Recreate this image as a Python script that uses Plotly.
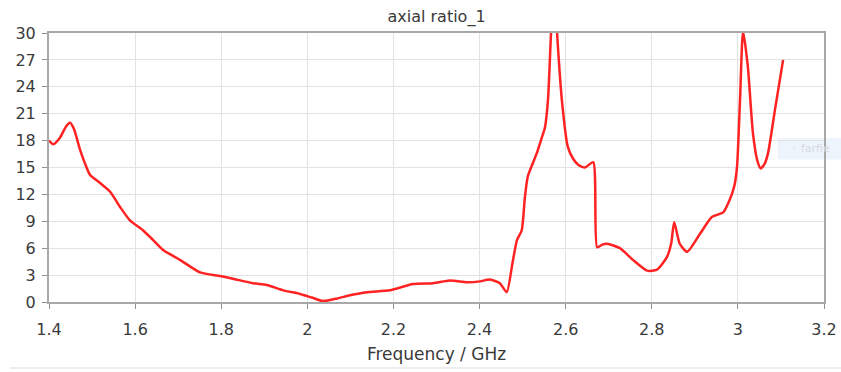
import plotly.graph_objects as go

# Axial ratio (dB) versus frequency (GHz)
freq_ghz = [
    1.400, 1.410, 1.425, 1.440, 1.449, 1.458, 1.472, 1.484, 1.495, 1.518,
    1.542, 1.565, 1.588, 1.618, 1.640, 1.665, 1.704, 1.751, 1.797, 1.827,
    1.874, 1.906, 1.944, 1.983, 2.010, 2.036, 2.070, 2.099, 2.138, 2.192,
    2.245, 2.292, 2.331, 2.371, 2.401, 2.424, 2.447, 2.463, 2.477, 2.487,
    2.498, 2.505, 2.512, 2.533, 2.545, 2.552, 2.559, 2.566, 2.573, 2.580,
    2.591, 2.605, 2.617, 2.629, 2.645, 2.664, 2.673, 2.685, 2.696, 2.726,
    2.756, 2.789, 2.812, 2.835, 2.845, 2.852, 2.865, 2.882, 2.912, 2.940,
    2.966, 2.981, 2.992, 2.998, 3.005, 3.012, 3.023, 3.035, 3.045, 3.053,
    3.062, 3.070, 3.086, 3.105,
]
axial_ratio_db = [
    18.0, 17.6, 18.3, 19.6, 20.0, 19.3, 17.0, 15.4, 14.2, 13.3,
    12.3, 10.6, 9.1, 8.0, 7.0, 5.8, 4.7, 3.3, 2.9, 2.6,
    2.1, 1.9, 1.3, 0.9, 0.5, 0.1, 0.4, 0.75, 1.1, 1.3,
    2.0, 2.1, 2.4, 2.2, 2.3, 2.5, 2.1, 1.1, 4.5, 6.9,
    8.0, 11.5, 14.0, 16.6, 18.4, 19.5, 22.6, 30.0, 36.0, 30.0,
    22.6, 17.3, 16.0, 15.3, 15.0, 15.6, 6.1, 6.4, 6.5, 6.0,
    4.7, 3.5, 3.6, 5.0, 6.5, 8.9, 6.5, 5.6, 7.6, 9.5,
    10.0, 11.4, 13.0, 15.1, 22.6, 30.2, 26.3, 18.8, 15.8, 14.9,
    15.4, 16.6, 21.4, 27.0,
]

x_ticks = [1.4, 1.6, 1.8, 2.0, 2.2, 2.4, 2.6, 2.8, 3.0, 3.2]
x_tick_text = ["1.4", "1.6", "1.8", "2", "2.2", "2.4", "2.6", "2.8", "3", "3.2"]
y_ticks = [0, 3, 6, 9, 12, 15, 18, 21, 24, 27, 30]

font_family = "DejaVu Sans, Verdana, sans-serif"
text_color = "#3a3a3a"

fig = go.Figure()
fig.add_trace(go.Scatter(
    x=freq_ghz, y=axial_ratio_db, mode="lines",
    line=dict(color="#ff2222", width=2.5, shape="spline", smoothing=0.6),
    name="farfield", showlegend=False,
))

axis_common = dict(
    showline=True, linecolor="#a8a8a8", linewidth=2, mirror=True,
    showgrid=True, gridcolor="#e2e2e2", gridwidth=1,
    ticks="outside", ticklen=5, tickcolor="#909090", tickwidth=1,
    zeroline=False, automargin=False,
    tickfont=dict(family=font_family, size=16, color=text_color),
)

fig.update_xaxes(
    range=[1.4, 3.2], tickvals=x_ticks, ticktext=x_tick_text,
    ticklabelstandoff=7,
    title=dict(text="Frequency / GHz", standoff=10,
               font=dict(family=font_family, size=17, color=text_color)),
    **axis_common,
)
fig.update_yaxes(range=[0, 30], tickvals=y_ticks, ticklabelstandoff=3,
                 **axis_common)

fig.update_layout(
    template="none",
    width=841, height=372,
    margin=dict(l=49, r=17, t=33, b=70, autoexpand=False),
    paper_bgcolor="white", plot_bgcolor="white",
    title=dict(text="axial ratio_1", x=0.5, xanchor="center",
               xref="paper", y=0.955, yanchor="middle",
               font=dict(family=font_family, size=16, color=text_color)),
    shapes=[
        # faint separator along the bottom of the panel
        dict(type="line", xref="paper", yref="paper",
             x0=-0.05, x1=1.03, y0=-0.245, y1=-0.245,
             line=dict(color="#ececec", width=2)),
        # partially hidden legend box at the right edge
        dict(type="rect", xref="paper", yref="paper",
             x0=0.94, x1=1.03, y0=0.53, y1=0.61,
             fillcolor="#eef4fb", line=dict(width=0), layer="below"),
    ],
    annotations=[
        dict(text="◦ farfie", xref="paper", yref="paper",
             x=0.955, y=0.57, xanchor="left", yanchor="middle",
             showarrow=False,
             font=dict(family=font_family, size=11, color="#d3dae3")),
    ],
)

fig.write_html("out.html")
